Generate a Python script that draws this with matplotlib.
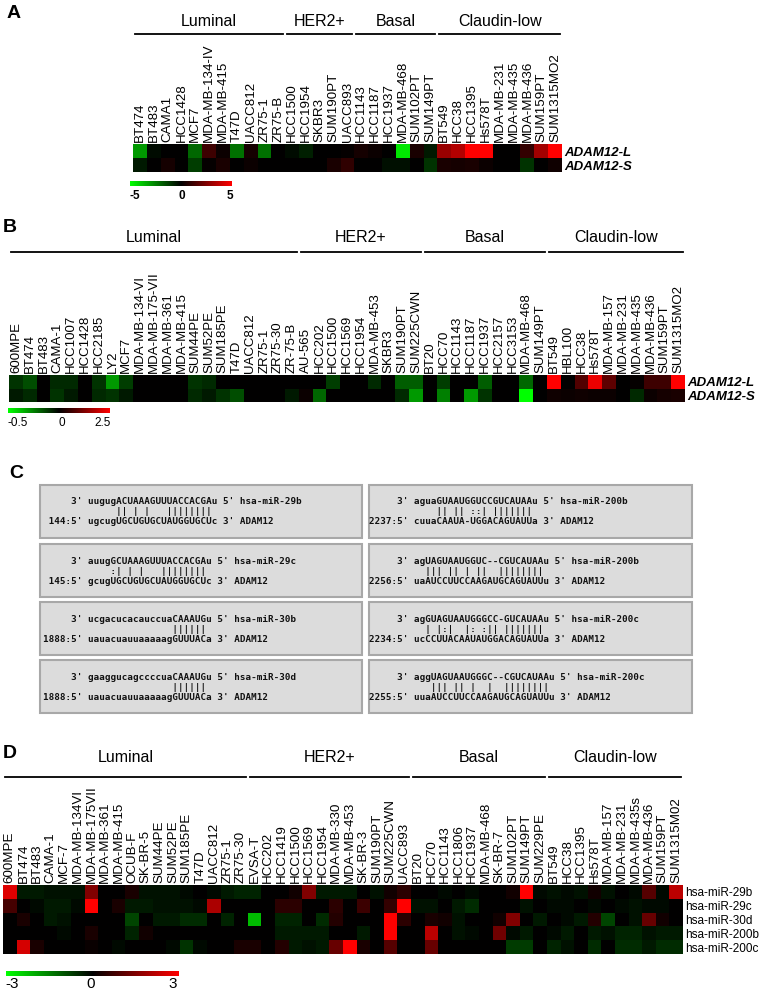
import numpy as np
import matplotlib.pyplot as plt
from matplotlib.colors import LinearSegmentedColormap, Normalize, TwoSlopeNorm
from matplotlib.patches import Rectangle

W, H = 783, 992
plt.rcParams['font.family'] = ['Liberation Sans', 'DejaVu Sans']

# ---------------- panel A data ----------------
a_groups = ['Luminal', 'HER2+', 'Basal', 'Claudin-low']
a_counts = [11, 5, 6, 9]
a_cols = ['BT474', 'BT483', 'CAMA1', 'HCC1428', 'MCF7', 'MDA-MB-134-IV', 'MDA-MB-415',
          'T47D', 'UACC812', 'ZR75-1', 'ZR75-B',
          'HCC1500', 'HCC1954', 'SKBR3', 'SUM190PT', 'UACC893',
          'HCC1143', 'HCC1187', 'HCC1937', 'MDA-MB-468', 'SUM102PT', 'SUM149PT',
          'BT549', 'HCC38', 'HCC1395', 'Hs578T', 'MDA-MB-231', 'MDA-MB-435', 'MDA-MB-436',
          'SUM159PT', 'SUM1315MO2']
a_rows = ['ADAM12-L', 'ADAM12-S']
a_L = [-3.0, -0.2, 0, 0, -2.0, 1.2, 0.2, -2.2, 0.4, -2.2, 0,
       -0.2, -0.6, 0, 0, 0.1,
       0.4, 0.2, 0, -4.5, 0.5, -0.5,
       3.0, 3.5, 5.0, 5.0, 0, 0, 1.0, 3.2, 5.0]
a_S = [-0.5, 0, 0.4, 0, -1.2, 0.1, 0.5, 0, 0.2, 0, 0,
       0, 0, 0, 0.5, 0.9,
       0, 0, -0.3, -0.3, 0, -1.0,
       0.5, 0.4, 0.5, 0.2, 0, 0, -1.0, 0, 0.3]

# ---------------- panel B data ----------------
b_counts = [21, 9, 9, 10]
b_cols = ['600MPE', 'BT474', 'BT483', 'CAMA-1', 'HCC1007', 'HCC1428', 'HCC2185', 'LY2', 'MCF7',
          'MDA-MB-134-VI', 'MDA-MB-175-VII', 'MDA-MB-361', 'MDA-MB-415', 'SUM44PE', 'SUM52PE',
          'SUM185PE', 'T47D', 'UACC812', 'ZR75-1', 'ZR75-30', 'ZR-75-B',
          'AU-565', 'HCC202', 'HCC1500', 'HCC1569', 'HCC1954', 'MDA-MB-453', 'SKBR3',
          'SUM190PT', 'SUM225CWN',
          'BT20', 'HCC70', 'HCC1143', 'HCC1187', 'HCC1937', 'HCC2157', 'HCC3153',
          'MDA-MB-468', 'SUM149PT',
          'BT549', 'HBL100', 'HCC38', 'Hs578T', 'MDA-MB-157', 'MDA-MB-231', 'MDA-MB-435',
          'MDA-MB-436', 'SUM159PT', 'SUM1315MO2']
b_L = [-0.1, -0.15, 0, -0.08, -0.08, 0, -0.1, -0.3, -0.12, 0, 0, 0, 0, -0.1, -0.08, 0,
       0, 0, 0, 0, 0,
       0, 0, -0.12, 0, 0, -0.08, 0, -0.18, -0.18,
       0, -0.12, 0, 0, -0.18, 0, 0, -0.2, 0,
       2.5, 0, 0.8, 2.3, 0.9, 0, 0.05, 0.6, 0.6, 2.5]
b_S = [-0.05, -0.08, 0, -0.1, -0.05, 0, -0.08, -0.1, -0.05, 0, 0, 0, 0, -0.08, -0.05,
       -0.1, -0.15, 0, 0, 0, -0.05,
       0.1, -0.2, 0, 0, 0, 0, 0, -0.08, -0.3,
       0, -0.25, 0, -0.3, -0.1, 0, 0, -0.5, 0,
       0.15, 0.1, 0.15, 0.1, 0.1, 0, -0.08, 0.1, 0.2, 0.25]

# ---------------- panel C data ----------------
c_pos = [144, 2237, 145, 2256, 1888, 2234, 1888, 2255]
c_mir = ['hsa-miR-29b', 'hsa-miR-200b', 'hsa-miR-29c', 'hsa-miR-200b',
         'hsa-miR-30b', 'hsa-miR-200c', 'hsa-miR-30d', 'hsa-miR-200c']
c_mir_seq = ['uugugACUAAAGUUUACCACGAu', 'aguaGUAAUGGUCCGUCAUAAu',
             'auugGCUAAAGUUUACCACGAu', 'agUAGUAAUGGUC--CGUCAUAAu',
             'ucgacucacauccuaCAAAUGu', 'agGUAGUAAUGGGCC-GUCAUAAu',
             'gaaggucagccccuaCAAAUGu', 'aggUAGUAAUGGGC--CGUCAUAAu']
c_pairs = ['     || | |   ||||||||', '    || || ::| |||||||',
           '    :| | |   ||||||||', '  ||| || | ||  ||||||||',
           '               ||||||', '  | |:|  |: :|| |||||||',
           '               ||||||', '   ||| || |  |  ||||||||']
c_utr_seq = ['ugcugUGCUGUGCUAUGGUGCUc', 'cuuaCAAUA-UGGACAGUAUUa',
             'gcugUGCUGUGCUAUGGUGCUc', 'uaAUCCUUCCAAGAUGCAGUAUUu',
             'uauacuauuaaaaagGUUUACa', 'ucCCUUACAAUAUGGACAGUAUUa',
             'uauacuauuaaaaagGUUUACa', 'uuaAUCCUUCCAAGAUGCAGUAUUu']

# ---------------- panel D data ----------------
d_counts = [18, 12, 10, 10]
d_cols = ['600MPE', 'BT474', 'BT483', 'CAMA-1', 'MCF-7', 'MDA-MB-134VI', 'MDA-MB-175VII',
          'MDA-MB-361', 'MDA-MB-415', 'OCUB-F', 'SK-BR-5', 'SUM44PE', 'SUM52PE', 'SUM185PE',
          'T47D', 'UACC812', 'ZR75-1', 'ZR75-30',
          'EVSA-T', 'HCC202', 'HCC1419', 'HCC1500', 'HCC1569', 'HCC1954', 'MDA-MB-330',
          'MDA-MB-453', 'SK-BR-3', 'SUM190PT', 'SUM225CWN', 'UACC893',
          'BT20', 'HCC70', 'HCC1143', 'HCC1806', 'HCC1937', 'MDA-MB-468', 'SK-BR-7',
          'SUM102PT', 'SUM149PT', 'SUM229PE',
          'BT549', 'HCC38', 'HCC1395', 'Hs578T', 'MDA-MB-157', 'MDA-MB-231', 'MDA-MB-435s',
          'MDA-MB-436', 'SUM159PT', 'SUM1315M02']
d_rows = ['hsa-miR-29b', 'hsa-miR-29c', 'hsa-miR-30d', 'hsa-miR-200b', 'hsa-miR-200c']
d_29b = [2.6, -0.3, -0.3, -0.2, -0.2, -0.2, 1.5, 0, 0, 0.3, -0.2, -0.2, -0.2, -0.1, 0, -0.1,
         -0.3, -0.4, -0.4, 0, 0, 0.2, 1.5, -0.3, -0.3, -0.3, 0, -0.2, 0.2, 0.5,
         0, 0, -0.1, 0, -0.1, 0, 0, 0.2, 3.0, -0.1,
         -0.2, -0.1, -0.2, 0.2, -0.2, 0, -0.1, 1.0, -0.1, 2.2]
d_29c = [0.8, 0, -0.1, -0.3, -0.3, -0.1, 3.0, 0, 0.3, -0.3, -0.3, -0.2, -0.2, -0.2, -0.1, 2.0,
         0, 0, 0, 0, 0.5, 0.5, 0, 0, 0.5, 0, 0.7, 0, 0.6, 3.0,
         -0.2, -0.2, 0, -0.3, -0.5, 0, 0, 0, -0.2, 0,
         -0.1, -0.1, 0, -0.1, 0, -0.1, -0.2, -0.1, -0.1, 0]
d_30d = [0, 0.3, 0, -0.3, -0.2, 0, 0, 0, 0, -0.8, 0, -0.3, -0.3, -0.5, -0.5, 0, -0.4, 0,
         -2.2, 0, -0.4, -0.4, 0, -0.5, 0.4, 0, 0, 0, 3.0, 0.5,
         0, 0.3, 0.2, -0.2, 0, 0, 0.2, 1.5, 0, -0.3,
         0, -0.1, -0.3, 0.4, -0.8, 0, -0.2, 1.2, 0.2, 0]
d_200b = [0, 0, 0, 0, -0.1, 0, 0.3, 0, 0, -0.4, 0.2, 0, 0, 0, 0, 0, 0, 0,
          0, 0, -0.3, -0.3, -0.3, -0.3, 0, 0, -0.3, 0, 3.0, 0,
          0, 2.2, 0, -0.2, -0.1, 0, 1.3, -0.1, -0.3, 0,
          -0.1, -0.3, 0, -0.3, -0.2, -0.4, -0.4, -0.2, -0.3, -0.3]
d_200c = [0, 2.5, 0.3, 0, 0, 0, 0.1, 0, -0.1, 0, 0, 0, -0.1, -0.6, -0.1, 0, 0, 0.3,
          0.3, 0, 0.4, -0.3, -0.2, -0.3, 1.2, 3.0, 0.3, 0, 1.0, 0,
          0, 1.2, 0, 0, 0, 0, 0, -0.7, -0.7, 0,
          -0.4, -0.2, 0, -0.5, 0, -0.5, -0.5, -0.3, -0.5, -0.5]

gbr = LinearSegmentedColormap.from_list('gbr', ['#00ff00', '#000000', '#ff0000'])

fig = plt.figure(figsize=(W / 100, H / 100), dpi=100)
base = fig.add_axes([0, 0, 1, 1])
base.set_xlim(0, W)
base.set_ylim(H, 0)
base.axis('off')


def rect(x0, y0, x1, y1):
    return [x0 / W, 1 - y1 / H, (x1 - x0) / W, (y1 - y0) / H]


def heatmap(x0, x1, y0, y1, data, cols, rows, norm, fs, **rowkw):
    ax = fig.add_axes(rect(x0, y0, x1, y1))
    ax.pcolormesh(np.array(data), cmap=gbr, norm=norm)
    ax.set_xlim(0, len(cols))
    ax.set_ylim(len(rows), 0)
    ax.xaxis.tick_top()
    ax.set_xticks(np.arange(len(cols)) + 0.5)
    ax.set_xticklabels(cols, rotation=90, fontsize=fs)
    ax.yaxis.tick_right()
    ax.set_yticks(np.arange(len(rows)) + 0.5)
    ax.set_yticklabels(rows, **rowkw)
    ax.tick_params(length=0, pad=1.5)
    for s in ax.spines.values():
        s.set_visible(False)
    return ax


def groups(x0, cw, counts, y_text, y_line, fs=11.5):
    edges = x0 + cw * np.concatenate([[0], np.cumsum(counts)])
    for a, b, name in zip(edges[:-1], edges[1:], a_groups):
        base.plot([a + 2, b - 2], [y_line, y_line], color='black', lw=1.3)
        base.text((a + b) / 2, y_text, name, ha='center', va='center', fontsize=fs)


def colorbar(x0, x1, y0, y1, labels, lab_x, lab_y, fs, weight='normal'):
    cax = fig.add_axes(rect(x0, y0, x1, y1))
    cax.imshow(np.linspace(-1, 1, 256)[None, :], cmap=gbr, aspect='auto')
    cax.axis('off')
    for t, x in zip(labels, lab_x):
        base.text(x, lab_y, t, ha='center', va='center', fontsize=fs, weight=weight)


# ---------------- panel A ----------------
base.text(14, 13, 'A', fontsize=14, weight='bold', ha='center', va='center')
ax0, ax1 = 133, 562
heatmap(ax0, ax1, 144, 172, [a_L, a_S], a_cols, a_rows, Normalize(-5, 5), 9.6,
        fontsize=9.5, fontweight='bold', fontstyle='italic')
groups(ax0, (ax1 - ax0) / len(a_cols), a_counts, 22, 34)
colorbar(130, 232, 181, 186, ['-5', '0', '5'], [135, 182, 230], 196, 8.5, 'bold')

# ---------------- panel B ----------------
base.text(10, 228, 'B', fontsize=14, weight='bold', ha='center', va='center')
bx0, bx1 = 9, 685
heatmap(bx0, bx1, 375, 402, [b_L, b_S], b_cols, a_rows,
        TwoSlopeNorm(vcenter=0, vmin=-0.5, vmax=2.5), 9.5,
        fontsize=9.5, fontweight='bold', fontstyle='italic')
groups(bx0, (bx1 - bx0) / len(b_cols), b_counts, 238, 252)
colorbar(8, 110, 408, 413, ['-0.5', '0', '2.5'], [18, 62, 103], 423, 8.5)

# ---------------- panel C ----------------
base.text(16, 474, 'C', fontsize=14, weight='bold', ha='center', va='center')
box_x = [(40, 362, 43), (369, 692, 369)]
box_top = [485, 544, 602, 660]
for i in range(8):
    bx_l, bx_r, tx = box_x[i % 2]
    top = box_top[i // 2]
    base.add_patch(Rectangle((bx_l, top), bx_r - bx_l, 53, facecolor='#dcdcdc',
                             edgecolor='#a8a8a8', lw=1.5))
    mono = dict(family='DejaVu Sans Mono', fontsize=6.7, weight='bold',
                ha='left', va='center', color='#111111')
    base.text(tx, top + 17, "     3' " + c_mir_seq[i] + " 5' " + c_mir[i], **mono)
    base.text(tx, top + 27, "        " + c_pairs[i], **mono)
    base.text(tx, top + 37, f"{c_pos[i]:>4}:5' " + c_utr_seq[i] + " 3' ADAM12", **mono)

# ---------------- panel D ----------------
base.text(10, 753, 'D', fontsize=14, weight='bold', ha='center', va='center')
dx0, dx1 = 3, 683
heatmap(dx0, dx1, 885, 954, [d_29b, d_29c, d_30d, d_200b, d_200c], d_cols, d_rows,
        Normalize(-3, 3), 9.6, fontsize=8.5)
groups(dx0, (dx1 - dx0) / len(d_cols), d_counts, 757, 777)
colorbar(6, 179, 971, 976, ['-3', '0', '3'], [12, 91, 173], 984, 11)

fig.savefig('out.png', dpi=100)
